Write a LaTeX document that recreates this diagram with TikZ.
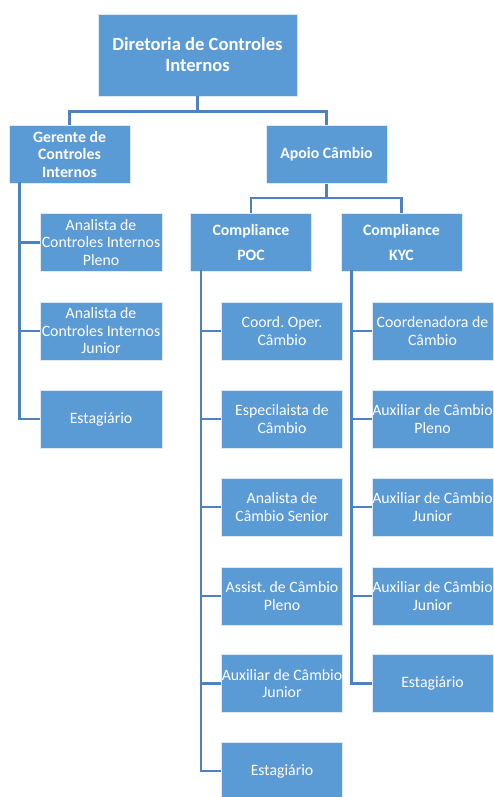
\documentclass[tikz,border=0pt]{standalone}
\usepackage{fontspec}
\setmainfont{Carlito}
\frenchspacing
\definecolor{boxblue}{HTML}{5B9BD5}
\definecolor{lineblue}{HTML}{4E82BE}
\begin{document}
\begin{tikzpicture}[x=1pt,y=-1pt,
  box/.style={rectangle,fill=boxblue,draw=white!80!boxblue,line width=0.8pt,text=white,align=center,inner sep=0pt,
    minimum width=121pt,minimum height=58pt,font=\fontsize{15.8}{17.5}\selectfont},
  head/.style={box,font=\bfseries\fontsize{15.8}{17.5}\selectfont},
  link/.style={draw=lineblue,line width=2.6pt}]
\useasboundingbox (0,0) rectangle (493,797);
% top levels
\node[head,minimum width=199pt,minimum height=82pt,font=\bfseries\fontsize{18.6}{21}\selectfont] (dir) at (197.5,55) {Diretoria de Controles\\Internos};
\node[head] (ger) at (69.5,154.5) {Gerente de\\Controles\\Internos};
\node[head] (apoio) at (326.5,154.5) {Apoio C\^ambio};
\node[head] (poc) at (251,242.5) {Compliance\\[7pt]POC};
\node[head] (kyc) at (401.5,242.5) {Compliance\\[7pt]KYC};
% gerente
\node[box,minimum width=122pt] (ga1) at (101,242.5) {Analista de\\Controles Internos\\Pleno};
\node[box,minimum width=122pt] (ga2) at (101,331) {Analista de\\Controles Internos\\Junior};
\node[box,minimum width=122pt] (ga3) at (101,419) {Estagi\'ario};
% POC
\node[box] (p1) at (282,331) {Coord. Oper.\\C\^ambio};
\node[box] (p2) at (282,419) {Especilaista de\\C\^ambio};
\node[box] (p3) at (282,507) {Analista de\\C\^ambio Senior};
\node[box] (p4) at (282,596) {Assist. de C\^ambio\\Pleno};
\node[box] (p5) at (282,683.5) {Auxiliar de C\^ambio\\Junior};
\node[box] (p6) at (282,771) {Estagi\'ario};
% KYC
\node[box] (k1) at (432.5,331) {Coordenadora de\\C\^ambio};
\node[box] (k2) at (432.5,419) {Auxiliar de C\^ambio\\Pleno};
\node[box] (k3) at (432.5,507) {Auxiliar de C\^ambio\\Junior};
\node[box] (k4) at (432.5,596) {Auxiliar de C\^ambio\\Junior};
\node[box] (k5) at (432.5,683.5) {Estagi\'ario};
% links
\draw[link] (dir.south) -- ++(0,15) -| (ger.north);
\draw[link] (dir.south) -- ++(0,15) -| (apoio.north);
\draw[link] (apoio.south) -- ++(0,14) -| (poc.north);
\draw[link] (apoio.south) -- ++(0,14) -| (kyc.north);
\foreach \k in {ga1,ga2,ga3}
  \draw[link] ([xshift=11pt,yshift=2pt]ger.south west) |- (\k.west);
\foreach \k in {p1,p2,p3,p4,p5,p6}
  \draw[link] ([xshift=11pt,yshift=2pt]poc.south west) |- (\k.west);
\foreach \k in {k1,k2,k3,k4,k5}
  \draw[link] ([xshift=11pt,yshift=2pt]kyc.south west) |- (\k.west);
\end{tikzpicture}
\end{document}
